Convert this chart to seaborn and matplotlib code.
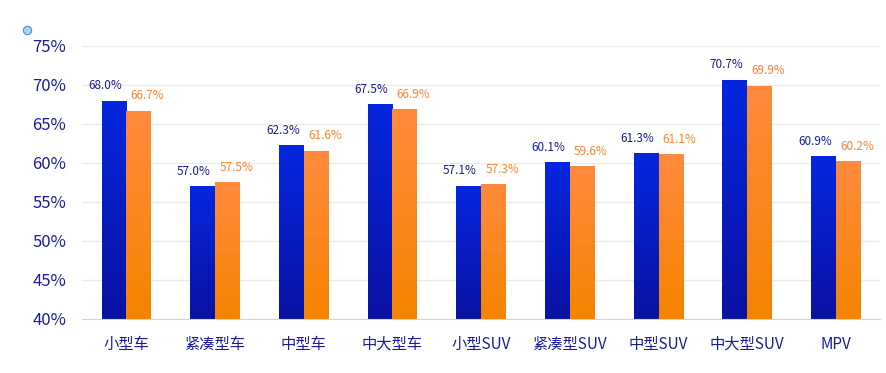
import numpy as np
import pandas as pd
import seaborn as sns
import matplotlib.pyplot as plt
from matplotlib.colors import LinearSegmentedColormap
from matplotlib.lines import Line2D

categories = ["小型车", "紧凑型车", "中型车", "中大型车", "小型SUV",
              "紧凑型SUV", "中型SUV", "中大型SUV", "MPV"]
series_a = [68.0, 57.0, 62.3, 67.5, 57.1, 60.1, 61.3, 70.7, 60.9]
series_b = [66.7, 57.5, 61.6, 66.9, 57.3, 59.6, 61.1, 69.9, 60.2]
series_names = ["A", "B"]
yticks = [40, 45, 50, 55, 60, 65, 70, 75]

df = pd.DataFrame({
    "cat": categories * 2,
    "val": series_a + series_b,
    "series": [series_names[0]] * len(categories) + [series_names[1]] * len(categories),
})

sns.set_style("white")
plt.rcParams["font.family"] = ["Noto Sans CJK SC", "DejaVu Sans"]

fig = plt.figure(figsize=(8.87, 3.73), dpi=100)
ax = fig.add_axes([0.0925, 0.1448, 0.9, 0.7319])

sns.barplot(data=df, x="cat", y="val", hue="series", order=categories,
            palette=["#0a22d0", "#fb8a30"], width=0.56, legend=False, ax=ax)
ax.set_ylim(40, 75)

# gradients for bars
blue_cm = LinearSegmentedColormap.from_list("b", ["#0a12a2", "#0527e0"])
orange_cm = LinearSegmentedColormap.from_list("o", ["#f58400", "#ff8a3e"])
grad = np.linspace(0, 1, 256).reshape(-1, 1)
n = len(categories)
label_colors = ["#1b1c9c", "#ff8230"]
for i, bar in enumerate(ax.patches[:2 * n]):
    blue = i < n
    cm = blue_cm if blue else orange_cm
    x0, w = bar.get_x(), bar.get_width()
    h = bar.get_height()
    im = ax.imshow(grad, cmap=cm, origin="lower", aspect="auto",
                   extent=[x0, x0 + w, 40, h], zorder=bar.get_zorder())
    im.set_clip_path(bar)
    bar.set_facecolor("none")
    bar.set_edgecolor("none")
    # blue labels hang left of their bar, orange ones right
    if blue:
        ax.annotate(f"{h:.1f}%", (x0 + w, h), xytext=(-3, 6), textcoords="offset points",
                    ha="right", va="bottom", fontsize=8.5, color=label_colors[0])
    else:
        ax.annotate(f"{h:.1f}%", (x0, h), xytext=(3, 6), textcoords="offset points",
                    ha="left", va="bottom", fontsize=8.5, color=label_colors[1])
ax.set_xlim(-0.5, n - 0.5)
ax.set_ylim(40, 75)

ax.set_yticks(yticks)
ax.set_yticklabels([f"{t}%" for t in yticks], fontsize=12, color="#1b1c9c")
ax.set_xticks(range(n))
ax.set_xticklabels(categories, fontsize=11, color="#1b1c9c")
ax.tick_params(axis="x", length=0, pad=12)
ax.tick_params(axis="y", length=0, pad=11.5)
ax.yaxis.grid(True, color="#ebebeb", linewidth=1)
ax.set_axisbelow(True)
for s in ["top", "right", "left"]:
    ax.spines[s].set_visible(False)
ax.spines["bottom"].set_color("#d4d4d4")
ax.set_xlabel("")
ax.set_ylabel("")

fig.add_artist(Line2D([27 / 887], [1 - 30 / 373], transform=fig.transFigure,
                      marker="o", markersize=6, markerfacecolor="#a8d4f2",
                      markeredgecolor="#4a90d0", markeredgewidth=0.8, linestyle="none"))

fig.savefig("out.png", dpi=100)
